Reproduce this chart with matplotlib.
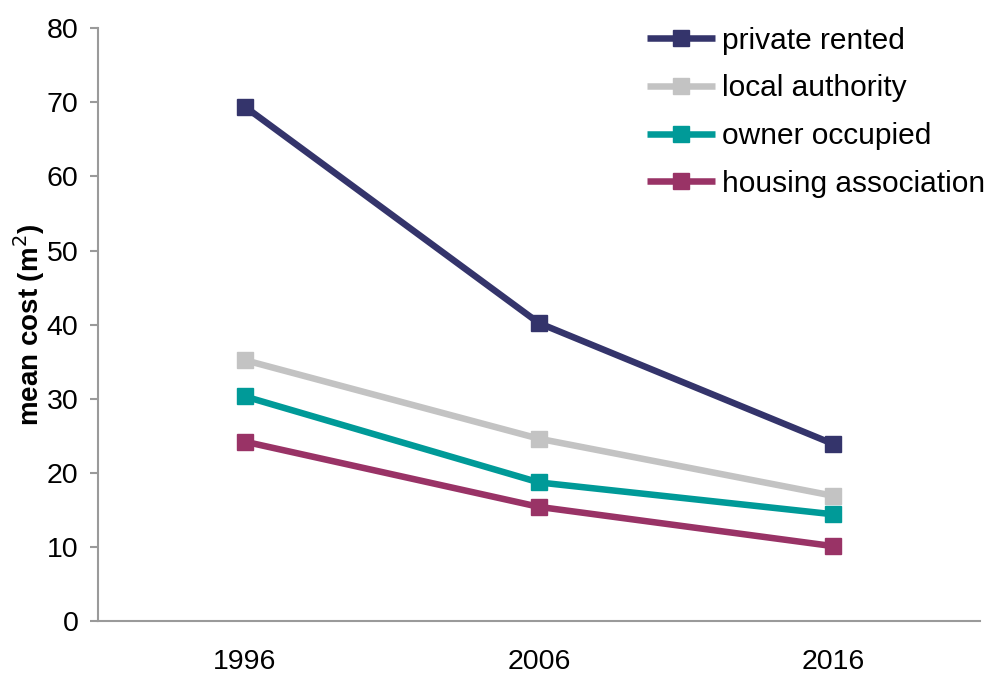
import matplotlib
matplotlib.use("Agg")
import matplotlib.pyplot as plt

# mean cost by tenure, survey years
years = ["1996", "2006", "2016"]
private_rented = [69.4, 40.2, 23.9]
local_authority = [35.2, 24.6, 16.9]
owner_occupied = [30.3, 18.7, 14.4]
housing_association = [24.2, 15.4, 10.1]

series = [
    ("private rented", private_rented, "#34346b"),
    ("local authority", local_authority, "#c3c3c3"),
    ("owner occupied", owner_occupied, "#009a98"),
    ("housing association", housing_association, "#993366"),
]

plt.rcParams["font.family"] = ["Liberation Sans", "DejaVu Sans"]

fig = plt.figure(figsize=(9.86, 6.73), dpi=100)
ax = fig.add_axes([0.0994, 0.0773, 0.8946, 0.8807])

x = range(len(years))
for name, vals, col in series:
    ax.plot(x, vals, color=col, linewidth=4.7, marker="s", markersize=11,
            label=name, solid_capstyle="butt")

ax.set_xlim(-0.5, 2.5)
ax.set_ylim(0, 80)
ax.set_xticks(list(x))
ax.set_xticklabels(years)
ax.set_yticks(range(0, 81, 10))

for side in ("top", "right"):
    ax.spines[side].set_visible(False)
for side in ("left", "bottom"):
    ax.spines[side].set_color("#9a9a9a")
    ax.spines[side].set_linewidth(1.5)

ax.tick_params(axis="y", direction="out", length=6, width=1.5, color="#9a9a9a",
               labelsize=20.5, pad=8)
ax.tick_params(axis="x", length=0, labelsize=20.5, pad=20)

ax.set_ylabel("mean cost (m$^2$)", fontsize=20, fontweight="bold", labelpad=0)

leg = ax.legend(loc="upper right", bbox_to_anchor=(1.026, 1.033), frameon=False,
                fontsize=21.5, handlelength=2.3, handletextpad=0.22,
                labelspacing=0.66, borderaxespad=0.2)

fig.savefig("out.png", dpi=100)
